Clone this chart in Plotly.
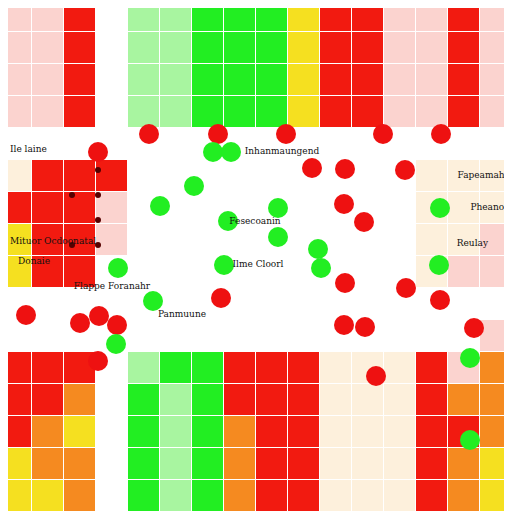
import plotly.graph_objects as go

# background blocks, 16x16 grid, category codes (top row first)
# 0 white, 1 pale pink, 2 cream, 3 light green, 4 green, 5 yellow, 6 orange, 7 red
top = [1, 1, 7, 0, 3, 3, 4, 4, 4, 5, 7, 7, 1, 1, 7, 1]
grid = [
    top, top, top, top,
    [0] * 16,
    [2, 7, 7, 7, 0, 0, 0, 0, 0, 0, 0, 0, 0, 2, 2, 2],
    [7, 7, 7, 1, 0, 0, 0, 0, 0, 0, 0, 0, 0, 2, 2, 2],
    [5, 7, 7, 1, 0, 0, 0, 0, 0, 0, 0, 0, 0, 2, 2, 1],
    [5, 7, 7, 0, 0, 0, 0, 0, 0, 0, 0, 0, 0, 2, 1, 1],
    [0] * 16,
    [0] * 15 + [1],
    [7, 7, 7, 0, 3, 4, 4, 7, 7, 7, 2, 2, 2, 7, 1, 6],
    [7, 7, 6, 0, 4, 3, 4, 7, 7, 7, 2, 2, 2, 7, 6, 6],
    [7, 6, 5, 0, 4, 3, 4, 6, 7, 7, 2, 2, 2, 7, 7, 6],
    [5, 6, 6, 0, 4, 3, 4, 6, 7, 7, 2, 2, 2, 7, 6, 5],
    [5, 5, 6, 0, 4, 3, 4, 6, 7, 7, 2, 2, 2, 7, 6, 5],
]
cells = [16 + 32 * i for i in range(16)]
palette = ["#ffffff", "#fbd3cf", "#fdf0dc", "#a8f5a0", "#22ee22", "#f5e020", "#f58a20", "#f21a10"]

red_x = [149, 218, 286, 383, 441, 98, 405, 345, 312, 344, 364, 26, 80, 99, 117, 98, 221, 344, 365, 376, 406, 474, 440, 345]
red_y = [134, 134, 134, 134, 134, 152, 170, 169, 168, 204, 222, 315, 323, 316, 325, 361, 298, 325, 327, 376, 288, 328, 300, 283]
green_x = [213, 231, 194, 160, 278, 228, 278, 318, 321, 440, 439, 118, 224, 153, 116, 470, 470]
green_y = [152, 152, 186, 206, 208, 221, 237, 249, 268, 208, 265, 268, 265, 301, 344, 358, 440]
dot_x = [98, 98, 98, 98, 72, 72]
dot_y = [170, 195, 220, 245, 195, 245]

labels = ["Ile laine", "Inhanmaungend", "Fapeamahe", "Pheanou", "Reulay", "Fesecoanin",
          "Mituor Ocdoonatal", "Donaie", "Ilme Cloorl", "Flappe Foranahr", "Panmuune"]
label_x = [10, 282, 510, 510, 488, 255, 10, 18, 258, 112, 182]
label_y = [150, 152, 176, 208, 244, 222, 242, 262, 265, 287, 315]
label_pos = ["middle right", "middle center", "middle left", "middle left", "middle left", "middle center",
             "middle right", "middle right", "middle center", "middle center", "middle center"]

n = len(palette)
scale = []
for i, c in enumerate(palette):
    scale += [[i / n, c], [(i + 1) / n, c]]

fig = go.Figure()
fig.add_trace(go.Heatmap(x=cells, y=cells, z=grid, zmin=-0.5, zmax=n - 0.5,
                         colorscale=scale, showscale=False, xgap=1, ygap=1))
fig.add_trace(go.Scatter(x=red_x, y=red_y, mode="markers",
                         marker=dict(size=20, color="#ee1111", line=dict(width=0))))
fig.add_trace(go.Scatter(x=green_x, y=green_y, mode="markers",
                         marker=dict(size=20, color="#22ee22", line=dict(width=0))))
fig.add_trace(go.Scatter(x=dot_x, y=dot_y, mode="markers",
                         marker=dict(size=6, color="#550000")))
fig.add_trace(go.Scatter(x=label_x, y=label_y, mode="text", text=labels, textposition=label_pos,
                         textfont=dict(family="DejaVu Serif", size=9, color="#111111")))

# the page has an 8px body margin, so shift the ranges to keep marks where they belong
fig.update_xaxes(range=[8, 520], visible=False)
fig.update_yaxes(range=[520, 8], visible=False)
fig.update_layout(width=512, height=512, margin=dict(l=0, r=0, t=0, b=0),
                  showlegend=False, plot_bgcolor="white", paper_bgcolor="white")
fig.write_html("out.html")
